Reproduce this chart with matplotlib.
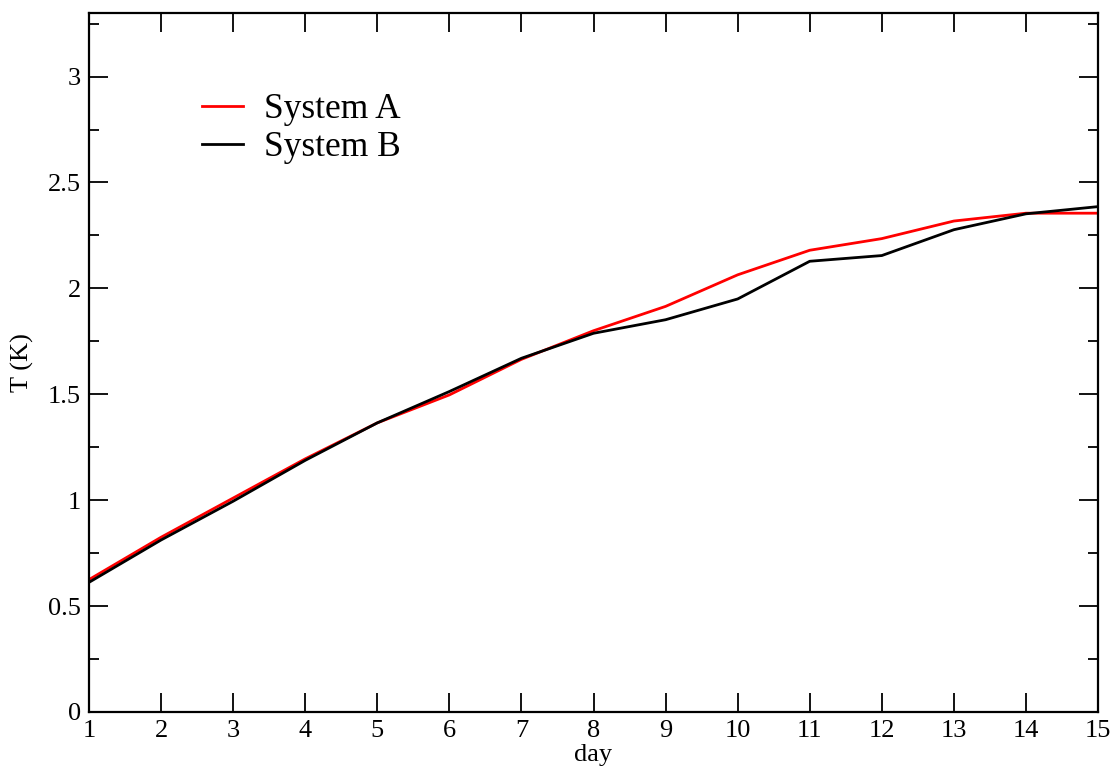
import matplotlib
matplotlib.use("Agg")
import matplotlib.pyplot as plt
from matplotlib.ticker import MultipleLocator

# values
days = [1, 2, 3, 4, 5, 6, 7, 8, 9, 10, 11, 12, 13, 14, 15]
system_a = [0.625, 0.825, 1.010, 1.195, 1.365, 1.497, 1.665, 1.800, 1.915,
            2.064, 2.180, 2.235, 2.318, 2.355, 2.355]
system_b = [0.612, 0.812, 0.995, 1.188, 1.365, 1.513, 1.670, 1.788, 1.852,
            1.950, 2.128, 2.155, 2.277, 2.352, 2.386]

plt.rcParams['font.family'] = ['Liberation Serif', 'DejaVu Serif']

fig = plt.figure(figsize=(11.15, 7.76), dpi=100)
ax = fig.add_axes([0.0798, 0.0825, 0.9050, 0.9007])

ax.plot(days, system_a, color='#ff0000', lw=2.0, label='System A')
ax.plot(days, system_b, color='black', lw=2.0, label='System B')

ax.set_xlim(1, 15)
ax.set_ylim(0, 3.3)
ax.xaxis.set_major_locator(MultipleLocator(1))
ax.yaxis.set_minor_locator(MultipleLocator(0.25))
ax.set_yticks([0, 0.5, 1, 1.5, 2, 2.5, 3])
ax.set_yticklabels(['0', '0.5', '1', '1.5', '2', '2.5', '3'])

ax.tick_params(which='both', direction='in', top=True, right=True,
               labelsize=19, width=1.3, color='black')
ax.tick_params(which='major', length=14, pad=6)
ax.tick_params(which='minor', length=7)
for s in ax.spines.values():
    s.set_linewidth(1.6)

ax.set_xlabel('day', fontsize=19, labelpad=1)
ax.set_ylabel('T (K)', fontsize=19, labelpad=10)

ax.legend(loc='upper left', bbox_to_anchor=(0.112, 0.885), frameon=False,
          fontsize=25.5, handlelength=1.15, handletextpad=0.6,
          labelspacing=0.13, borderpad=0, borderaxespad=0)

fig.savefig('out.png', dpi=100)
